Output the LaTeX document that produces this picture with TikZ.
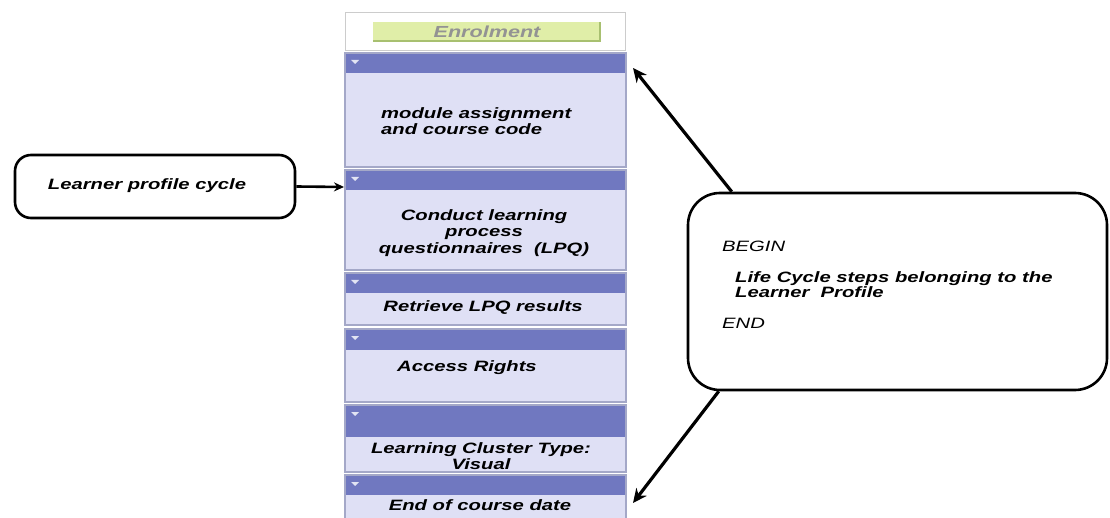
\documentclass[tikz,border=0pt]{standalone}
\usepackage{fontspec}
\setmainfont{Liberation Sans}
\newfontfamily\stepfont{Liberation Sans}[FakeStretch=1.35]
\usetikzlibrary{arrows.meta,calc}
\definecolor{headblue}{HTML}{7078C0}
\definecolor{bodyblue}{HTML}{DFE0F5}
\definecolor{edgeblue}{HTML}{A4A8C8}
\definecolor{enrolgreen}{HTML}{E0EEA8}
\definecolor{enroledge}{HTML}{A8C070}

\begin{document}
\begin{tikzpicture}[x=1pt,y=-1pt,
		steptext/.style={font=\stepfont\bfseries\itshape\fontsize{15}{16.5}\selectfont, inner sep=0pt, align=center},
		notetext/.style={font=\stepfont\itshape\fontsize{15}{16.5}\selectfont, inner sep=0pt, anchor=base west, align=left},
		roundbox/.style={draw, line width=2.6pt, rounded corners=#1, fill=white},
		bigarrow/.style={line width=3.2pt, -{Stealth[length=14pt,width=13pt]}}]
				\clip (0,0) rectangle (1110,518);
				\fill[white] (0,0) rectangle (1110,518);
				
				% enrolment header
				\draw[gray!40, fill=white] (345,12) rectangle (625,50);
				\fill[enrolgreen] (373,22) rectangle (600,41);
				\draw[enroledge, line width=1.5pt] (373,41) -- (600,41) -- (600,22);
				\node[steptext, font=\stepfont\itshape\bfseries\fontsize{16}{17}\selectfont, text=gray!85] (enrol) at (487,32) {Enrolment};
				
				% the six panels
				\foreach \name/\top/\hb/\bot in {p1/53/73/167, p2/170/190/270, p3/273/293/325, p4/329/350/402, p5/405/437/472, p6/475/495/524}{
					\fill[bodyblue] (345,\hb) rectangle (626,\bot);
					\fill[headblue] (345,\top) rectangle (626,\hb);
					\draw[edgeblue, line width=1.2pt] (345,\top) rectangle (626,\bot);
					\fill[white!80!headblue] (351,\top+7) -- (359,\top+7) -- (355,\top+11) -- cycle;
					\coordinate (\name) at (626,\top);}
				
				\node[steptext, anchor=west, align=left] (modtxt) at (381,121) {module assignment\\and course code};
				\node[steptext] (lpqtxt) at (484,233) {Conduct learning\\process\\questionnaires\ \ (LPQ)};
				\node[steptext] (restxt) at (483,308) {Retrieve LPQ results};
				\node[steptext] (acctxt) at (467,368) {Access Rights};
				\node[steptext] (clutxt) at (481,456) {Learning Cluster Type:\\Visual};
				\node[steptext] (endtxt) at (480,505) {End of course date};
				
				% side boxes
				\node[roundbox=16pt, minimum width=280pt, minimum height=63pt] (learner) at (155,186.5) {};
				\node[steptext] (learnertxt) at (147,186) {Learner profile cycle};
				
				\node[roundbox=32pt, minimum width=419pt, minimum height=197pt] (info) at (897.5,291.5) {};
				\node[notetext] (begintxt) at (722,252) {BEGIN};
				\node[notetext, font=\stepfont\bfseries\itshape\fontsize{15}{15}\selectfont] (lifetxt) at (735,298) {Life Cycle steps belonging to the\\Learner\ \ Profile};
				\node[notetext] (endlbl) at (722,328) {END};
				
				\coordinate (p2in) at ($(p2)+(-282,17)$);
				\coordinate (p1in) at ($(p1)+(7,15)$);
				\coordinate (p6in) at ($(p6)+(7,28)$);
				
				\draw[line width=2.6pt, -{Stealth[length=10pt,width=9pt]}] (learner.east) -- (p2in);
				\draw[bigarrow] ([xshift=45pt]info.north west) -- (p1in);
				\draw[bigarrow] ([xshift=32pt]info.south west) -- (p6in);
			\end{tikzpicture}
\end{document}
